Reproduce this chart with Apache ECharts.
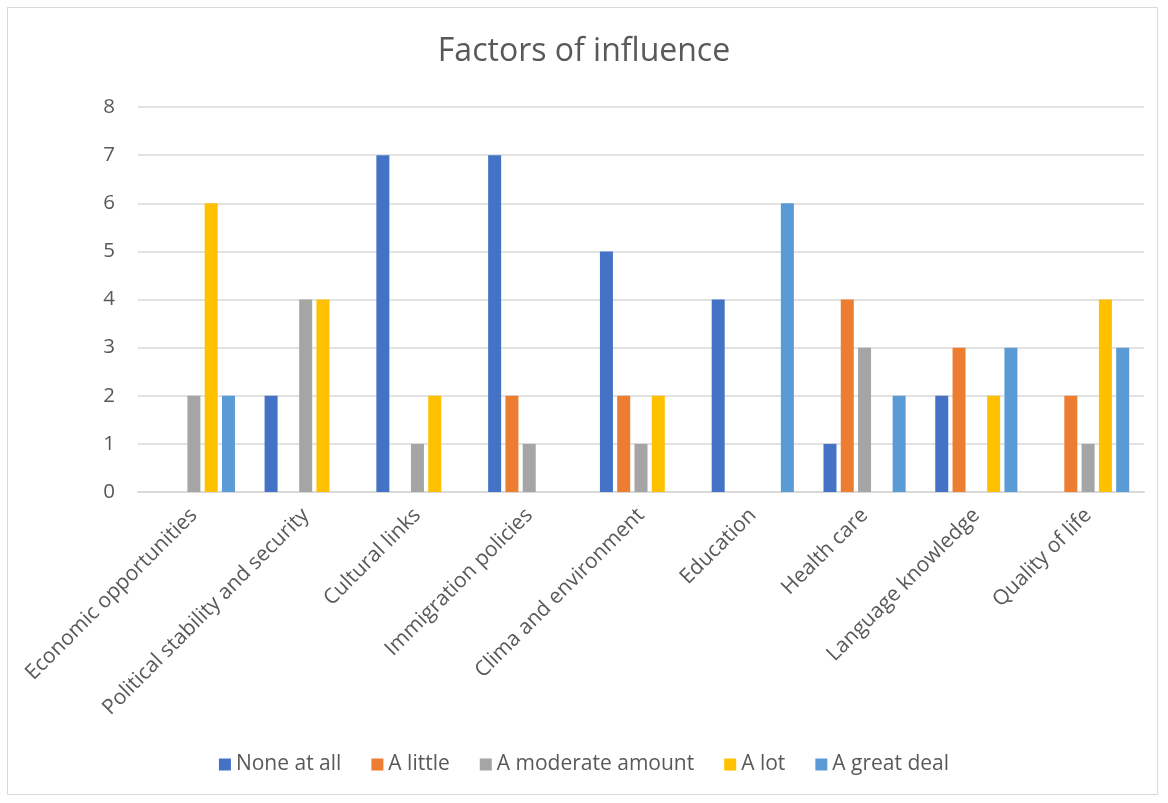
<!DOCTYPE html>
<html><head><meta charset="utf-8">
<script src="https://cdn.jsdelivr.net/npm/echarts@6/dist/echarts.min.js"></script>
<style>html,body{margin:0;padding:0;background:#fff}#c{width:1168px;height:803px;position:relative}
#frame{position:absolute;left:7px;top:7px;width:1151px;height:788px;border:1px solid #d9d9d9;box-sizing:border-box;pointer-events:none}</style>
</head><body><div id="c"></div><div id="frame"></div>
<script>
const categories = ["Economic opportunities","Political stability and security","Cultural links","Immigration policies","Clima and environment","Education","Health care","Language knowledge","Quality of life"];
const noneAtAll = [0,2,7,7,5,4,1,2,0];
const aLittle = [0,0,0,2,2,0,4,3,2];
const aModerate = [2,4,1,1,1,0,3,0,1];
const aLot = [6,4,2,0,2,0,0,2,4];
const aGreatDeal = [2,0,0,0,0,6,2,3,3];
const yTicks = [0,1,2,3,4,5,6,7,8];

const font = "'Open Sans', sans-serif";
const chart = echarts.init(document.getElementById('c'));
function s(name, data, color){
  return {name, type:'bar', data, barWidth:13, barGap:'33%', itemStyle:{color}};
}
chart.setOption({
  animation:false,
  textStyle:{fontFamily:font},
  title:{text:'Factors of influence', left:'center', top:31, textStyle:{fontSize:32, fontWeight:'normal', color:'#595959', fontFamily:font}},
  grid:{left:138, right:24, top:107, bottom:311, containLabel:false},
  legend:{bottom:23, left:'center', itemWidth:12, itemHeight:12, itemGap:30, icon:'rect',
    textStyle:{fontSize:21, color:'#595959', fontFamily:font, padding:[0,0,0,0]}},
  xAxis:{type:'category', data:categories,
    axisLine:{lineStyle:{color:'#d9d9d9', width:2}}, axisTick:{show:false},
    axisLabel:{rotate:45, interval:0, fontSize:21, color:'#595959', fontFamily:font, margin:20}},
  yAxis:{type:'value', min:yTicks[0], max:yTicks[yTicks.length-1], interval:1,
    axisLine:{show:false}, axisTick:{show:false},
    axisLabel:{fontSize:20.5, color:'#595959', fontFamily:font, margin:23}},
  series:[
    s('None at all', noneAtAll, '#4472C4'),
    s('A little', aLittle, '#ED7D31'),
    s('A moderate amount', aModerate, '#A5A5A5'),
    s('A lot', aLot, '#FFC000'),
    s('A great deal', aGreatDeal, '#5B9BD5')
  ]
});
chart.setOption({yAxis:{splitLine:{lineStyle:{color:'#d9d9d9', width:1.5}}}});
</script></body></html>
